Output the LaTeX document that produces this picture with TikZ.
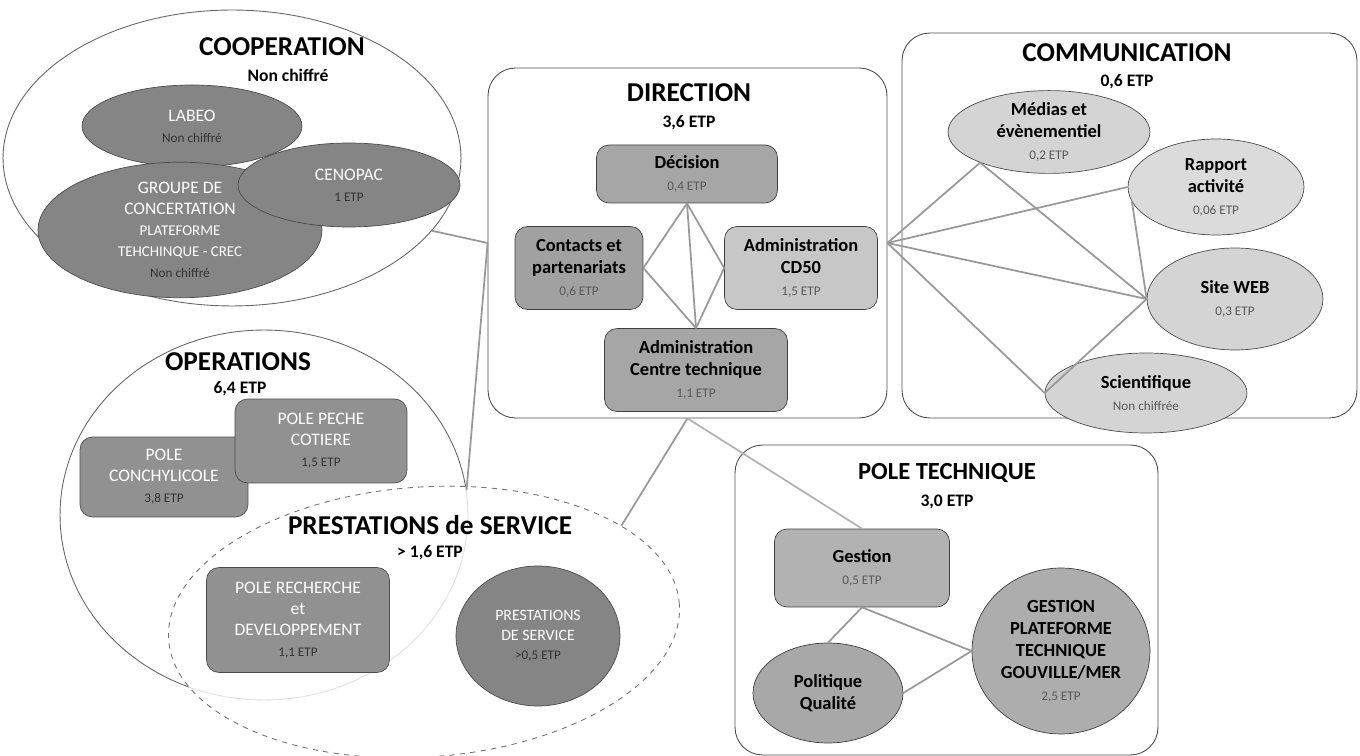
\documentclass[tikz,border=0pt]{standalone}
\usepackage{fontspec}
\setmainfont{Carlito}
\usepackage{tikz}
\usetikzlibrary{shapes.geometric, positioning}

\newcommand{\etp}[1]{{\fontsize{7.5}{9}\selectfont\mdseries\color{black!65}#1}}
\newcommand{\etpd}[1]{{\fontsize{7.5}{9}\selectfont\mdseries\color{black!80}#1}}

\begin{document}
\begin{tikzpicture}[x=0.02cm, y=-0.02cm,
    title/.style={font=\fontsize{15.5}{18}\selectfont\bfseries},
    subtitle/.style={font=\fontsize{10}{12}\selectfont\bfseries},
    zone/.style={draw=black!70, line width=0.5pt, rounded corners=0.55cm},
    bigell/.style={ellipse, draw=black!60, line width=0.5pt, inner sep=0pt},
    darkell/.style={ellipse, draw=black!70, fill=black!48, text=white, align=center, inner sep=0pt, font=\fontsize{10}{12}\selectfont},
    darkbox/.style={rectangle, rounded corners=0.25cm, draw=black!70, fill=black!43, text=white, align=center, inner sep=0pt, font=\fontsize{10}{12}\selectfont},
    greybox/.style={rectangle, rounded corners=0.25cm, draw=black!75, fill=black!35, align=center, inner sep=0pt, font=\fontsize{10.5}{12.5}\selectfont\bfseries},
    greyell/.style={ellipse, draw=black!75, fill=black!34, align=center, inner sep=0pt, font=\fontsize{10.5}{12.5}\selectfont\bfseries},
    lightell/.style={ellipse, draw=black!70, fill=black!17, align=center, inner sep=0pt, font=\fontsize{10.5}{12.5}\selectfont\bfseries},
    link/.style={draw=black!40, line width=1pt}]
    \useasboundingbox (0,0) rectangle (1360,756);

    % cooperation
    \node[bigell, minimum width=9.16cm, minimum height=5.92cm] (coop) at (232,158) {};
    \node[title] (cooptitle) at (282,47) {COOPERATION};
    \node[subtitle] (coopsub) at (288,75) {Non chiffré};
    \node[darkell, minimum width=4.4cm, minimum height=1.64cm] (labeo) at (192,126) {LABEO\\\etpd{Non chiffré}};
    \node[darkell, minimum width=5.68cm, minimum height=2.68cm] (groupe) at (180,230) {GROUPE DE\\CONCERTATION\\{\fontsize{8.5}{10}\selectfont PLATEFORME}\\{\fontsize{8.5}{10}\selectfont TEHCHINQUE - CREC}\\\etpd{Non chiffré}};
    \node[darkell, minimum width=4.44cm, minimum height=1.68cm] (cenopac) at (349,185) {CENOPAC\\\etpd{1 ETP}};

    % operations
    \node[bigell, minimum width=8.16cm, minimum height=7.4cm] (ops) at (264,515) {};
    \node[title] (opstitle) at (238,362) {OPERATIONS};
    \node[subtitle] (opssub) at (240,389) {6,4 ETP};
    \node[darkbox, minimum width=3.36cm, minimum height=1.6cm] (conchy) at (164,477) {POLE\\CONCHYLICOLE\\\etpd{3,8 ETP}};
    \node[darkbox, minimum width=3.44cm, minimum height=1.68cm] (peche) at (321,441) {POLE PECHE\\COTIERE\\\etpd{1,5 ETP}};

    % prestations de service
    \node[bigell, dashed, draw=black!55, fill=white, fill opacity=0.8, rotate=4, minimum width=10.24cm, minimum height=5.4cm] (presta) at (424,622) {};
    \node[title] (prestatitle) at (430,525) {PRESTATIONS de SERVICE};
    \node[subtitle] (prestasub) at (430,553) {> 1,6 ETP};
    \node[darkbox, minimum width=3.66cm, minimum height=2.1cm] (recherche) at (298,620) {POLE RECHERCHE\\et\\DEVELOPPEMENT\\\etpd{1,1 ETP}};
    \node[darkell, font=\fontsize{9}{11}\selectfont, minimum width=3.28cm, minimum height=2.8cm] (service) at (538,636) {PRESTATIONS\\DE SERVICE\\\etpd{>0,5 ETP}};

    % direction
    \node[zone, minimum width=7.98cm, minimum height=7cm] (direction) at (687.5,243) {};
    \node[title] (dirtitle) at (689,93) {DIRECTION};
    \node[subtitle] (dirsub) at (689,123) {3,6 ETP};
    \node[greybox, minimum width=3.62cm, minimum height=1.16cm] (decision) at (687,174) {Décision\\\etp{0,4 ETP}};
    \node[greybox, fill=black!37, minimum width=2.56cm, minimum height=1.66cm] (contacts) at (579,268) {Contacts et\\partenariats\\\etp{0,6 ETP}};
    \node[greybox, fill=black!22, minimum width=3.06cm, minimum height=1.66cm] (cd50) at (801,268) {Administration\\CD50\\\etp{1,5 ETP}};
    \node[greybox, minimum width=3.66cm, minimum height=1.66cm] (centre) at (696,370) {Administration\\Centre technique\\\etp{1,1 ETP}};

    % communication
    \node[zone, minimum width=9.1cm, minimum height=7.7cm] (comm) at (1129.5,225.5) {};
    \node[title] (commtitle) at (1127,53) {COMMUNICATION};
    \node[subtitle] (commsub) at (1127,82) {0,6 ETP};
    \node[lightell, minimum width=4.04cm, minimum height=1.6cm] (medias) at (1049,132) {Médias et\\évènementiel\\\etp{0,2 ETP}};
    \node[lightell, fill=black!14, minimum width=3.52cm, minimum height=1.92cm] (rapport) at (1216,187) {Rapport\\activité\\\etp{0,06 ETP}};
    \node[lightell, minimum width=3.52cm, minimum height=2.04cm] (site) at (1235,299) {Site WEB\\\etp{0,3 ETP}};
    \node[lightell, minimum width=4.04cm, minimum height=1.6cm] (sci) at (1146,393) {Scientifique\\\etp{Non chiffrée}};

    % pole technique
    \node[zone, minimum width=8.46cm, minimum height=6.2cm] (tech) at (946.5,600) {};
    \node[title, font=\fontsize{14}{17}\selectfont\bfseries] (techtitle) at (947,473) {POLE TECHNIQUE};
    \node[subtitle] (techsub) at (947,502) {3,0 ETP};
    \node[greybox, fill=black!30, minimum width=3.5cm, minimum height=1.56cm] (gestion) at (862,568) {Gestion\\\etp{0,5 ETP}};
    \node[greyell, minimum width=3cm, minimum height=2cm] (politique) at (828,693) {Politique\\Qualité};
    \node[greyell, fill=black!32, minimum width=3.56cm, minimum height=3.32cm] (plateforme) at (1061,651) {GESTION\\PLATEFORME\\TECHNIQUE\\GOUVILLE/MER\\\etp{2,5 ETP}};

    % liens
    \draw[link] (coop.-20) -- (direction.west);
    \draw[link] (ops.7) -- (direction.west);
    \draw[link] (presta.22) -- (direction.south);
    \draw[link, draw=black!30] (direction.south) -- (gestion.north);
    \draw[link] (decision.south) -- (contacts.east);
    \draw[link] (decision.south) -- (cd50.west);
    \draw[link] (decision.south) -- (centre.north);
    \draw[link] (contacts.east) -- (centre.north);
    \draw[link] (cd50.west) -- (centre.north);
    \foreach \t in {medias.-156, rapport.west, site.west, sci.west}
        \draw[link] (direction.east) -- (\t);
    \draw[link] (medias.-156) -- (site.west);
    \draw[link] (rapport.-170) -- (site.west);
    \draw[link] (sci.west) -- (site.west);
    \draw[link] (gestion.south) -- (politique.north);
    \draw[link] (gestion.south) -- (plateforme.west);
    \draw[link] (politique.east) -- (plateforme.west);
\end{tikzpicture}
\end{document}
